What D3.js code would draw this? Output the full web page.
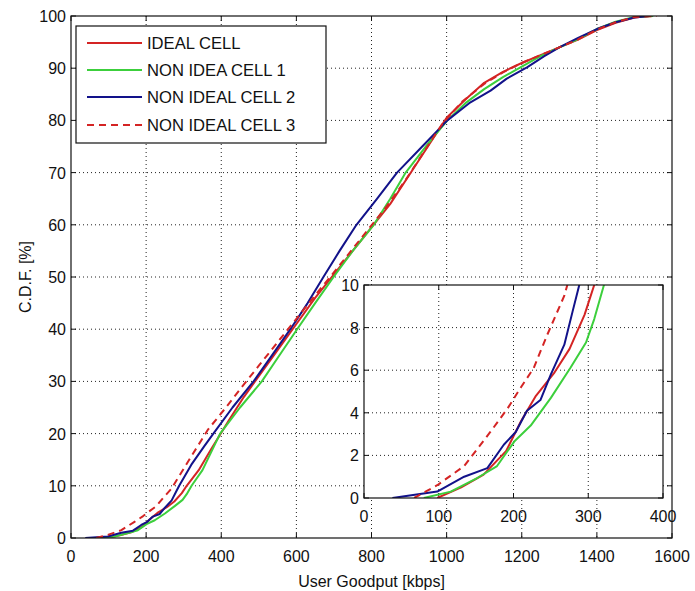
<!DOCTYPE html>
<html><head><meta charset="utf-8">
<script src="https://cdn.jsdelivr.net/npm/d3@7"></script>
<style>
body{margin:0;background:#fff;}
text{font-family:"Liberation Sans",Arial,sans-serif;fill:#111;}
</style></head>
<body><svg id="c" width="695" height="591"></svg>
<script>
// ---- data (goodput kbps, CDF %) ----
const idealX = [98,130,160,190,210,230,255,275,295,308,340,373,420,460,500,550,600,650,700,750,800,850,900,950,1000,1050,1100,1150,1200,1250,1300,1350,1400,1450,1500,1540];
const idealY = [0,0.5,1.1,2.2,3.6,4.8,5.9,7.0,8.6,10,13,17,22.5,27,31,36,41,46,50.5,55,59.5,64,69.5,75,80.5,84,87.2,89.3,91,92.5,94,95.5,97.3,98.7,99.7,100];
const nic1X = [80,116,152,178,201,223,250,276,297,308,321,350,397,450,508,555,602,650,699,750,806,850,891,950,1002,1050,1100,1150,1200,1250,1300,1350,1400,1450,1500,1550];
const nic1Y = [0,0.3,0.95,1.5,2.65,3.4,4.7,6.1,7.3,8.4,10,13,20,25,30,35,40,45,50,55,60,65,70,75.5,80,83.3,86,88.3,90.3,92.3,94,95.6,97.5,98.9,99.8,100];
const nic2X = [38,98,134,165,187,203,218,236,250,268,279,288,320,354,379,430,486,535,584,630,672,715,760,815,868,935,1002,1060,1117,1160,1215,1260,1300,1350,1400,1450,1500,1540];
const nic2Y = [0,0.3,1.0,1.4,2.5,3.1,4.1,4.6,5.8,7.2,8.75,10,14,17.5,20,25,30,35,40,45,50,55,60,65,70,75,80,83.3,85.7,88,90.2,92.3,94,95.8,97.5,98.8,99.7,100];
const nic3X = [67,98,134,169,192,210,227,245,268,272,320,364,408,450,500,550,600,650,690,740,790,840,890,940,990,1040,1100,1150,1200,1250,1300,1350,1400,1450,1500,1560];
const nic3Y = [0,0.6,1.5,3.1,4.2,5.2,6.1,7.65,9.5,10,15.6,20.7,24.6,28.5,33,37.5,42,46.5,50,54.5,59,63.5,68.5,74,79.5,83.5,87,89.2,91,92.5,94,95.5,97.4,98.8,99.8,100];
const seriesNames = ["IDEAL CELL","NON IDEA CELL 1","NON IDEAL CELL 2","NON IDEAL CELL 3"];
const xTicks = [0,200,400,600,800,1000,1200,1400,1600];
const yTicks = [0,10,20,30,40,50,60,70,80,90,100];
const insetXTicks = [0,100,200,300,400];
const insetYTicks = [0,2,4,6,8,10];

const series = [
  {name:seriesNames[0], x:idealX, y:idealY, color:"#d42424", dash:null, w:2},
  {name:seriesNames[1], x:nic1X, y:nic1Y, color:"#3ccf3c", dash:null, w:2},
  {name:seriesNames[2], x:nic2X, y:nic2Y, color:"#12128a", dash:null, w:2},
  {name:seriesNames[3], x:nic3X, y:nic3Y, color:"#d42424", dash:"7,5", w:2}
];

const svg = d3.select("#c");
const M = {l:71, r:672, t:16, b:538};
const x = d3.scaleLinear().domain([0,1600]).range([M.l,M.r]);
const y = d3.scaleLinear().domain([0,100]).range([M.b,M.t]);

function drawAxes(g, xs, ys, xt, yt, L, R, T, B, fs){
  g.append("g").selectAll("line").data(xt.slice(1,-1)).join("line")
    .attr("x1",d=>xs(d)).attr("x2",d=>xs(d)).attr("y1",T).attr("y2",B)
    .attr("stroke","#222").attr("stroke-width",1).attr("stroke-dasharray","1,3");
  g.append("g").selectAll("line").data(yt.slice(1,-1)).join("line")
    .attr("y1",d=>ys(d)).attr("y2",d=>ys(d)).attr("x1",L).attr("x2",R)
    .attr("stroke","#222").attr("stroke-width",1).attr("stroke-dasharray","1,3");
  const tl=5;
  const tk=g.append("g").attr("stroke","#111").attr("stroke-width",1);
  xt.forEach(d=>{
    tk.append("line").attr("x1",xs(d)).attr("x2",xs(d)).attr("y1",B).attr("y2",B-tl);
    tk.append("line").attr("x1",xs(d)).attr("x2",xs(d)).attr("y1",T).attr("y2",T+tl);
  });
  yt.forEach(d=>{
    tk.append("line").attr("y1",ys(d)).attr("y2",ys(d)).attr("x1",L).attr("x2",L+tl);
    tk.append("line").attr("y1",ys(d)).attr("y2",ys(d)).attr("x1",R).attr("x2",R-tl);
  });
  g.append("g").selectAll("text").data(xt).join("text")
    .attr("x",d=>xs(d)).attr("y",B+24).attr("text-anchor","middle")
    .attr("font-size",fs).text(d=>d);
  g.append("g").selectAll("text").data(yt).join("text")
    .attr("x",L-5).attr("y",d=>ys(d)+6).attr("text-anchor","end")
    .attr("font-size",fs).text(d=>d);
}

// main axes
const main = svg.append("g");
drawAxes(main, x, y, xTicks, yTicks, M.l, M.r, M.t, M.b, 16);
main.append("defs").append("clipPath").attr("id","clipMain").append("rect")
  .attr("x",M.l).attr("y",M.t).attr("width",M.r-M.l).attr("height",M.b-M.t);
const line = d3.line().x(d=>x(d[0])).y(d=>y(d[1]));
const curves = main.append("g").attr("clip-path","url(#clipMain)");
series.forEach(s=>{
  curves.append("path").datum(s.x.map((v,i)=>[v,s.y[i]]))
    .attr("d",line).attr("fill","none").attr("stroke",s.color)
    .attr("stroke-width",s.w).attr("stroke-dasharray",s.dash)
    .attr("stroke-linejoin","round");
});
main.append("rect").attr("x",M.l).attr("y",M.t).attr("width",M.r-M.l).attr("height",M.b-M.t)
  .attr("fill","none").attr("stroke","#111").attr("stroke-width",1.2);

// axis titles
svg.append("text").attr("x",(M.l+M.r)/2).attr("y",587).attr("text-anchor","middle")
  .attr("font-size",16).text("User Goodput [kbps]");
svg.append("text").attr("transform","translate(31,277) rotate(-90)").attr("text-anchor","middle")
  .attr("font-size",16).text("C.D.F. [%]");

// legend
const lg = svg.append("g");
lg.append("rect").attr("x",76).attr("y",26).attr("width",250).attr("height",117)
  .attr("fill","#fff").attr("stroke","#111").attr("stroke-width",1.2);
const legY = [43,70,97,125];
series.forEach((s,i)=>{
  lg.append("line").attr("x1",87).attr("x2",142).attr("y1",legY[i]).attr("y2",legY[i])
    .attr("stroke",s.color).attr("stroke-width",2.2).attr("stroke-dasharray",s.dash);
  lg.append("text").attr("x",147).attr("y",legY[i]+6).attr("font-size",16.6).text(s.name);
});

// inset
const I = {l:364, r:663, t:285, b:498};
const ix = d3.scaleLinear().domain([0,400]).range([I.l,I.r]);
const iy = d3.scaleLinear().domain([0,10]).range([I.b,I.t]);
const ins = svg.append("g");
ins.append("rect").attr("x",I.l).attr("y",I.t).attr("width",I.r-I.l).attr("height",I.b-I.t).attr("fill","#fff");
drawAxes(ins, ix, iy, insetXTicks, insetYTicks, I.l, I.r, I.t, I.b, 16);
ins.append("defs").append("clipPath").attr("id","clipIns").append("rect")
  .attr("x",I.l).attr("y",I.t).attr("width",I.r-I.l).attr("height",I.b-I.t);
const iline = d3.line().x(d=>ix(d[0])).y(d=>iy(d[1]));
const icurves = ins.append("g").attr("clip-path","url(#clipIns)");
series.forEach(s=>{
  icurves.append("path").datum(s.x.map((v,i)=>[v,s.y[i]]))
    .attr("d",iline).attr("fill","none").attr("stroke",s.color)
    .attr("stroke-width",s.w).attr("stroke-dasharray",s.dash)
    .attr("stroke-linejoin","round");
});
ins.append("rect").attr("x",I.l).attr("y",I.t).attr("width",I.r-I.l).attr("height",I.b-I.t)
  .attr("fill","none").attr("stroke","#111").attr("stroke-width",1.2);
</script></body></html>
